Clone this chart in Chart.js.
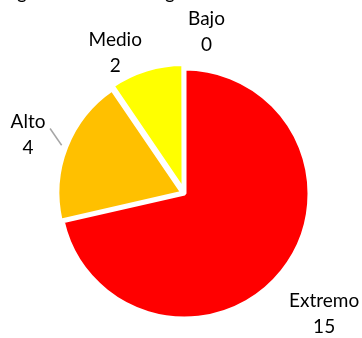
<!DOCTYPE html>
<html>
<head>
<meta charset="utf-8">
<script src="https://cdn.jsdelivr.net/npm/chart.js@4.4.1/dist/chart.umd.min.js"></script>
<style>
  html, body { margin: 0; padding: 0; background: #fff; }
  #wrap { width: 362px; height: 338px; }
</style>
</head>
<body>
<div id="wrap"><canvas id="riesgo" width="362" height="338"></canvas></div>
<script>
// data
const categories = ['Extremo', 'Alto', 'Medio', 'Bajo'];
const values = [15, 4, 2, 0];
const sliceColors = ['#FF0000', '#FFC000', '#FFFF00', '#70AD47'];
const explode = [0, 8, 13, 0];

// label placement (distance past the rim, then small nudges like Excel does)
const labelGap = [60, 42, 32, 37];
const labelNudge = [[-5, 5], [-1, 2], [-23, 9], [22, 0]];
const FONT = '19px Lato, "Open Sans", sans-serif';

const pieLabels = {
  id: 'pieLabels',
  afterDatasetsDraw(chart) {
    const ctx = chart.ctx;
    const arcs = chart.getDatasetMeta(0).data;
    ctx.save();
    ctx.font = FONT;
    ctx.fillStyle = '#000';
    ctx.textAlign = 'center';
    ctx.textBaseline = 'middle';
    arcs.forEach((arc, i) => {
      const { x, y, startAngle, endAngle, outerRadius } = arc.getProps(['x', 'y', 'startAngle', 'endAngle', 'outerRadius'], true);
      const mid = (startAngle + endAngle) / 2;
      const d = outerRadius + labelGap[i];
      const lx = x + Math.cos(mid) * d + labelNudge[i][0];
      const ly = y + Math.sin(mid) * d + labelNudge[i][1];
      ctx.fillText(categories[i], lx, ly - 13);
      ctx.fillText(String(values[i]), lx, ly + 13);

      if (categories[i] === 'Alto') {
        // leader line from the rim of the slice toward the label
        const ox = x + Math.cos(mid) * explode[i];
        const oy = y + Math.sin(mid) * explode[i];
        ctx.strokeStyle = '#A6A6A6';
        ctx.lineWidth = 1.5;
        ctx.beginPath();
        ctx.moveTo(ox + Math.cos(mid) * (outerRadius - 1), oy + Math.sin(mid) * (outerRadius - 1));
        ctx.lineTo(lx + 22, ly - 6);
        ctx.stroke();
      }
    });
    ctx.restore();
  }
};

// title sits mostly above the visible area, only the descenders show
const cutTitle = {
  id: 'cutTitle',
  afterDraw(chart) {
    const ctx = chart.ctx;
    ctx.save();
    ctx.font = FONT;
    ctx.fillStyle = '#000';
    ctx.textAlign = 'center';
    ctx.textBaseline = 'alphabetic';
    ctx.fillText('g', 22, -1);
    ctx.fillText('g', 170, -1);
    ctx.restore();
  }
};

new Chart(document.getElementById('riesgo'), {
  type: 'pie',
  data: {
    labels: categories,
    datasets: [{
      data: values,
      backgroundColor: sliceColors,
      borderColor: '#FFFFFF',
      borderWidth: 4,
      offset: explode
    }]
  },
  options: {
    responsive: false,
    animation: false,
    layout: { padding: { left: 51, right: 44, top: 60, bottom: 11 } },
    plugins: {
      legend: { display: false },
      tooltip: { enabled: false },
      title: { display: false }
    }
  },
  plugins: [pieLabels, cutTitle]
});
</script>
</body>
</html>
